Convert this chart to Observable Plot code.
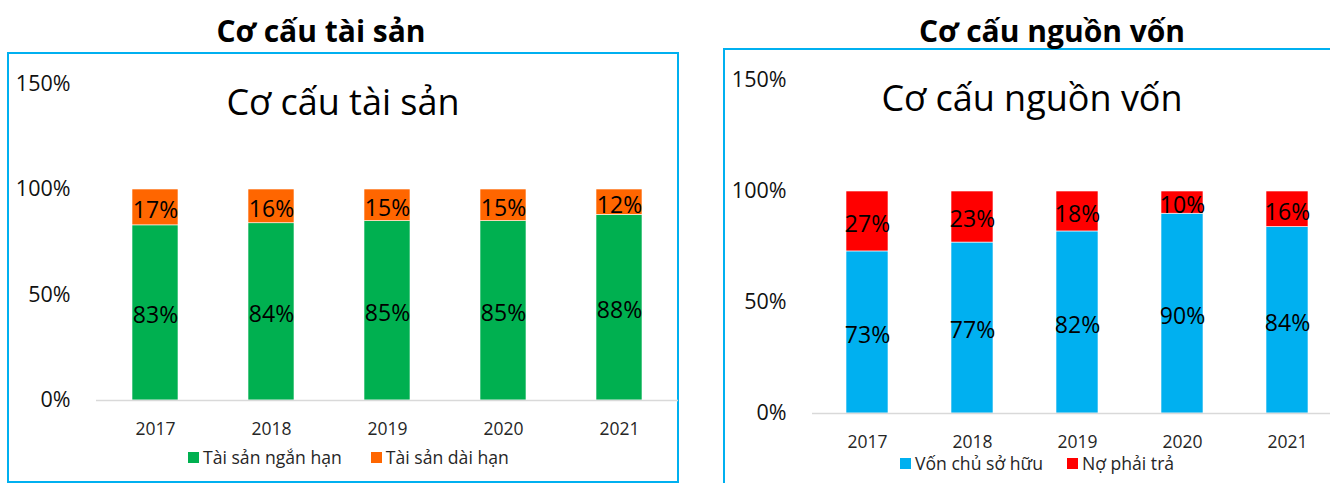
<!DOCTYPE html>
<html>
<head>
<meta charset="utf-8">
<script src="https://cdn.jsdelivr.net/npm/d3@7"></script>
<script src="https://cdn.jsdelivr.net/npm/@observablehq/plot@0.6"></script>
<style>
  html, body { margin: 0; padding: 0; background: #fff; width: 1330px; height: 483px; overflow: hidden; font-family: "Open Sans", "Noto Sans", sans-serif; }
  .abs { position: absolute; }
  .panel { position: absolute; border: 2px solid #00B0F0; box-sizing: border-box; }
  .title { position: absolute; font-weight: bold; font-size: 30px; color: #000; white-space: nowrap; transform: translate(-50%, -50%); }
  .inner { position: absolute; font-size: 36px; color: #000; white-space: nowrap; transform: translate(-50%, -50%); }
  .legend { position: absolute; display: flex; align-items: center; font-size: 17.6px; color: #262626; white-space: nowrap; transform: translateY(-50%); }
  .legend .sw { display: inline-block; width: 11px; height: 11px; margin-right: 4px; }
  .legend .item { display: flex; align-items: center; }
  svg text { font-family: "Open Sans", "Noto Sans", sans-serif; }
</style>
</head>
<body>
<div class="panel" style="left:7px; top:52px; width:672px; height:431px;"></div>
<div class="panel" style="left:723px; top:48px; width:700px; height:500px;"></div>
<div class="title" style="left:321px; top:30px;">Cơ cấu tài sản</div>
<div class="title" style="left:1052px; top:30px;">Cơ cấu nguồn vốn</div>
<div class="inner" style="left:343px; top:101px;">Cơ cấu tài sản</div>
<div class="inner" style="left:1032px; top:97px;">Cơ cấu nguồn vốn</div>
<div id="left" class="abs" style="left:0; top:0; width:680px; height:483px;"></div>
<div id="right" class="abs" style="left:680px; top:0; width:650px; height:483px; overflow:hidden;"></div>
<div id="legL" class="legend" style="left:188px; top:457px;"></div>
<div id="legR" class="legend" style="left:900px; top:463px;"></div>
<script>
const years = ["2017", "2018", "2019", "2020", "2021"];
const yTicks = [0, 50, 100, 150];

const assetSeries = ["Tài sản ngắn hạn", "Tài sản dài hạn"];
const assetColors = ["#00B050", "#FF6600"];
const shortTermAssets = [83, 84, 85, 85, 88];
const longTermAssets = [17, 16, 15, 15, 12];

const capitalSeries = ["Vốn chủ sở hữu", "Nợ phải trả"];
const capitalColors = ["#00B0F0", "#FF0000"];
const equity = [73, 77, 82, 90, 84];
const liabilities = [27, 23, 18, 10, 16];

function tidy(seriesNames, valueLists) {
  const rows = [];
  years.forEach((yr, i) => {
    seriesNames.forEach((s, k) => rows.push({year: yr, series: s, value: valueLists[k][i]}));
  });
  return rows;
}

function chart(opts) {
  const data = tidy(opts.series, opts.values);
  return Plot.plot({
    width: opts.width,
    height: 483,
    marginLeft: opts.marginLeft,
    marginRight: opts.marginRight,
    marginTop: opts.marginTop,
    marginBottom: opts.marginBottom,
    style: {background: "transparent", overflow: "visible", maxWidth: "none"},
    x: {domain: years, paddingInner: opts.pad, paddingOuter: opts.pad / 2, label: null},
    y: {domain: [0, 150], label: null},
    color: {domain: opts.series, range: opts.colors},
    marks: [
      Plot.barY(data, Plot.stackY({x: "year", y: "value", fill: "series", stroke: "white", strokeWidth: 0.6})),
      Plot.ruleY([0], {stroke: "#d9d9d9", strokeWidth: 1.6}),
      Plot.text(data, Plot.stackY({x: "year", y: "value", text: d => d.value + "%", fontSize: 23, fill: "#000", dy: 3})),
      Plot.axisY({ticks: yTicks, tickFormat: d => d + "%", tickSize: 0, tickPadding: 26, fontSize: 21.5, fill: "#111", label: null}),
      Plot.axisX({tickSize: 0, tickPadding: opts.xPad, fontSize: 17.5, fill: "#262626", label: null})
    ]
  });
}

document.getElementById("left").appendChild(chart({
  width: 680, marginLeft: 96, marginRight: 2, marginTop: 83.5, marginBottom: 83,
  pad: 0.605, xPad: 22, series: assetSeries, colors: assetColors,
  values: [shortTermAssets, longTermAssets]
}));

document.getElementById("right").appendChild(chart({
  width: 661, marginLeft: 132, marginRight: 0, marginTop: 80, marginBottom: 70,
  pad: 0.603, xPad: 22, series: capitalSeries, colors: capitalColors,
  values: [equity, liabilities]
}));

function legend(id, names, colors, gap) {
  const el = document.getElementById(id);
  names.forEach((n, i) => {
    const item = document.createElement("span");
    item.className = "item";
    if (i < names.length - 1) item.style.marginRight = gap + "px";
    item.innerHTML = `<span class="sw" style="background:${colors[i]}"></span><span>${n}</span>`;
    el.appendChild(item);
  });
}
legend("legL", assetSeries, assetColors, 29);
legend("legR", capitalSeries, capitalColors, 24);
</script>
</body>
</html>
